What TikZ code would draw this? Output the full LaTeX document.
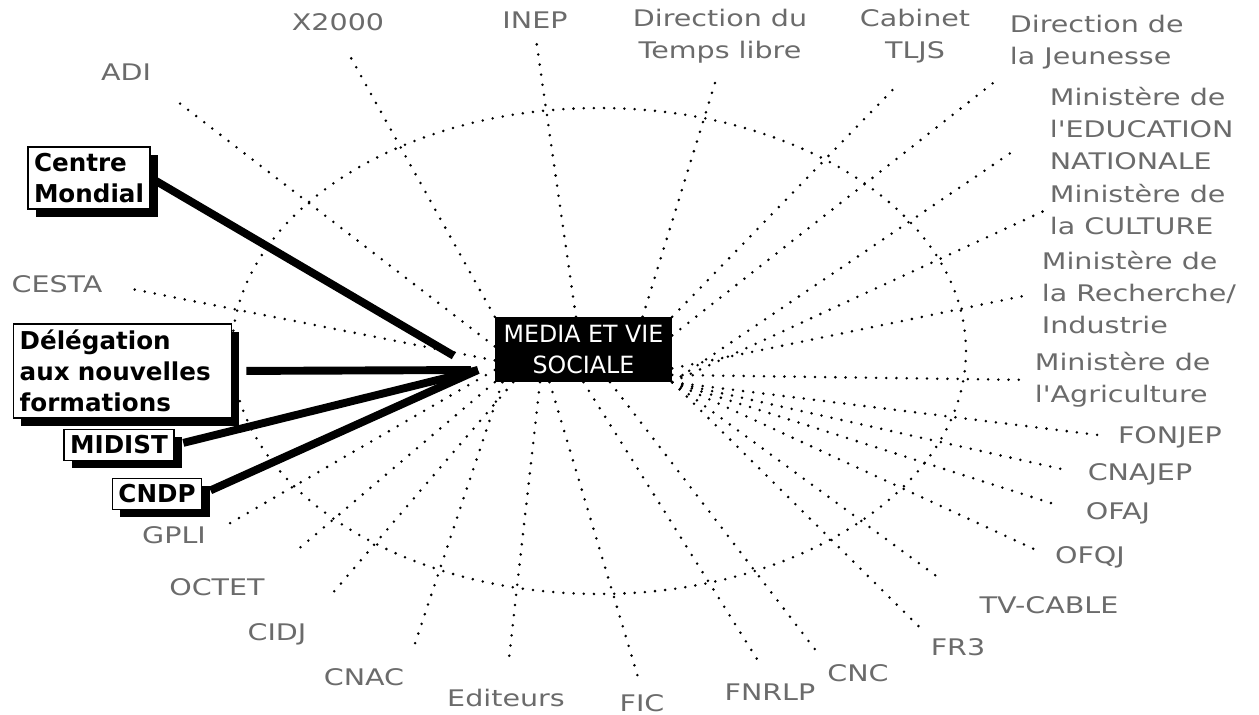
\documentclass[tikz,border=0pt]{standalone}
\usepackage{fontspec}
\setmainfont{DejaVu Sans}
\newfontfamily\etiqfont[FakeStretch=1.25]{DejaVu Sans}
\usetikzlibrary{shadows}
\definecolor{trama}{gray}{0.42}
\tikzset{
  organismo/.style={text=trama, align=left, inner sep=2pt,
    font=\etiqfont\fontsize{13}{18.2}\selectfont},
  caja/.style={draw, line width=0.9pt, fill=white, inner sep=3.5pt, align=left,
    font=\bfseries\fontsize{14}{17.6}\selectfont,
    general shadow={fill=black, shadow xshift=4.5pt, shadow yshift=-4.5pt}},
  rayo/.style={line width=1.6pt, dash pattern=on 0pt off 5.8pt, line cap=round},
  enlace/.style={line width=4.5pt}
}
\begin{document}
\begin{tikzpicture}[x=0.02cm, y=-0.02cm]
        \useasboundingbox (0,0) rectangle (1259,715);

        % Nodo central
        \node[fill=black, text=white, minimum width=100.7pt, minimum height=36.9pt,
              inner sep=1pt, align=center, font=\fontsize{13.5}{17.6}\selectfont]
              (mvs) at (583.5,349.5) {MEDIA ET VIE\\SOCIALE};

        % Elipse punteada
        \draw[rayo] (599,351) ellipse [x radius=7.34cm, y radius=4.86cm];

        % Organismos (arriba)
        \node[organismo] (x2000) at (338,22) {X2000};
        \node[organismo] (adi) at (126,72) {ADI};
        \node[organismo] (inep) at (535,20) {INEP};
        \node[organismo, align=center] (tl) at (720,36) {Direction du\\Temps libre};
        \node[organismo, align=center] (tljs) at (915,36) {Cabinet\\TLJS};
        \node[organismo, anchor=west] (jeun) at (1006,42) {Direction de\\la Jeunesse};

        % Organismos (derecha)
        \node[organismo, anchor=west] (edu) at (1046,129) {Ministère de\\l'EDUCATION\\NATIONALE};
        \node[organismo, anchor=west] (cult) at (1046,210) {Ministère de\\la CULTURE};
        \node[organismo, anchor=west] (rech) at (1038,293) {Ministère de\\la Recherche/\\Industrie};
        \node[organismo, anchor=west] (agri) at (1031,380) {Ministère de\\l'Agriculture};
        \node[organismo] (fonjep) at (1170,437) {FONJEP};
        \node[organismo] (cnajep) at (1140,474) {CNAJEP};
        \node[organismo] (ofaj) at (1118,513) {OFAJ};
        \node[organismo] (ofqj) at (1090,557) {OFQJ};
        \node[organismo] (tv) at (1049,605) {TV-CABLE};
        \node[organismo] (fr3) at (958,647) {FR3};

        % Organismos (abajo e izquierda)
        \node[organismo] (cnc) at (858,673) {CNC};
        \node[organismo] (fnrlp) at (770,692) {FNRLP};
        \node[organismo] (fic) at (642,703) {FIC};
        \node[organismo] (edit) at (506,698) {Editeurs};
        \node[organismo] (cnac) at (364,677) {CNAC};
        \node[organismo] (cidj) at (277,634) {CIDJ};
        \node[organismo] (octet) at (217,587) {OCTET};
        \node[organismo] (gpli) at (174,535) {GPLI};
        \node[organismo] (cesta) at (57,284) {CESTA};

        % Rayos punteados
        \draw[rayo, shorten >=10pt] (mvs.north west) -- (x2000.south);
        \draw[rayo, shorten >=17pt] (mvs.178) -- (adi.south east);
        \draw[rayo, shorten >=2.5pt] (mvs.103) -- (inep.south);
        \draw[rayo, shorten >=5pt] (mvs.29) -- (tl.south);
        \draw[rayo, shorten >=13pt] (mvs.north east) -- (tljs.south);
        \draw[rayo, shorten >=7.5pt] (mvs.9) -- (jeun.south west);
        \draw[rayo, shorten >=21pt] (mvs.south east) -- (edu.west);
        \draw[rayo, shorten >=1pt] (mvs.south east) -- (cult.west);
        \draw[rayo, shorten >=6pt] (mvs.-12) -- (rech.west);
        \draw[rayo, shorten >=5pt] (mvs.-16) -- (agri.west);
        \draw[rayo, shorten >=6.5pt] (mvs.south east) -- (fonjep.west);
        \draw[rayo, shorten >=13pt] (mvs.south east) -- (cnajep.west);
        \draw[rayo, shorten >=17pt] (mvs.south east) -- (ofaj.west);
        \draw[rayo, shorten >=8.5pt] (mvs.south east) -- (ofqj.west);
        \draw[rayo, shorten >=27pt] (mvs.south east) -- (tv.west);
        \draw[rayo, shorten >=3.5pt] (mvs.south east) -- (fr3.north west);
        \draw[rayo, shorten >=8pt] (mvs.-51) -- (cnc.north west);
        \draw[rayo, shorten >=12pt] (mvs.south) -- (fnrlp.north);
        \draw[rayo, shorten >=8.5pt] (mvs.-136) -- (fic.north);
        \draw[rayo, shorten >=12pt] (mvs.-143) -- (edit.north);
        \draw[rayo, shorten >=9.5pt] (mvs.-158) -- (cnac.north east);
        \draw[rayo, shorten >=17.5pt] (mvs.-155) -- (cidj.north east);
        \draw[rayo, shorten >=23pt] (mvs.south west) -- (octet.north east);
        \draw[rayo, shorten >=12.5pt] (mvs.-167) -- (gpli.east);
        \draw[rayo, shorten >=15pt] (mvs.-173) -- (cesta.east);

        % Cajas con sombra
        \node[caja] (cm) at (89,178) {Centre\\Mondial};
        \node[caja, text width=117pt] (deleg) at (122.5,371) {Délégation\\aux nouvelles\\formations};
        \node[caja] (midist) at (119,445) {MIDIST};
        \node[caja] (cndp) at (157,494) {CNDP};

        % Enlaces gruesos
        \coordinate (hub) at (478,370);
        \draw[enlace, shorten >=16pt] (cm.east) -- (hub);
        \draw[enlace, shorten <=8pt, shorten >=4pt] (deleg.east) -- (hub);
        \draw[enlace, shorten <=5pt] (midist.east) -- (hub);
        \draw[enlace, shorten <=5pt] (cndp.east) -- (hub);
    \end{tikzpicture}
\end{document}
